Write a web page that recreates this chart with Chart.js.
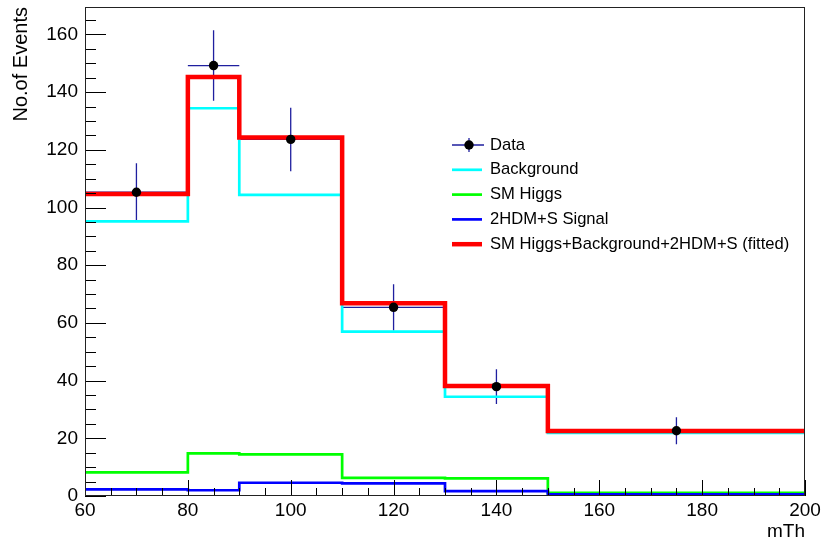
<!DOCTYPE html>
<html>
<head>
<meta charset="utf-8">
<script src="https://cdn.jsdelivr.net/npm/chart.js@4.4.0/dist/chart.umd.min.js"></script>
<style>
  html, body { margin: 0; padding: 0; background: #fff; }
</style>
</head>
<body>
<canvas id="grafico" width="823" height="541"></canvas>
<script>
// Bordes de los bins (mTh)
const binEdges = [60, 80, 90, 110, 130, 150, 200];

// Contenido de cada bin
const background = [95.2, 134.4, 104.4, 57.0, 34.4, 21.9];
const smHiggs = [8.2, 14.8, 14.4, 6.3, 6.1, 1.1];
const signal2HDM = [2.3, 2.0, 4.6, 4.4, 1.7, 0.6];
const fitted = [104.7, 145.2, 124.3, 66.8, 38.1, 22.5];

// Datos con sus barras de error
const dataX = [70, 85, 100, 120, 140, 175];
const dataY = [105.3, 149.2, 123.6, 65.4, 37.9, 22.6];
const dataErr = [10.0, 12.2, 11.0, 8.0, 6.0, 4.7];

const xTicks = [60, 80, 100, 120, 140, 160, 180, 200];
const yTicks = [0, 20, 40, 60, 80, 100, 120, 140, 160];

const legendLabels = ['Data', 'Background', 'SM Higgs', '2HDM+S Signal', 'SM Higgs+Background+2HDM+S (fitted)'];

const FUENTE = '"Liberation Sans", Arial, Helvetica, sans-serif';

// Convierte el contenido de los bins en puntos para una línea escalonada
function escalones(valores) {
  const pts = valores.map((v, i) => ({ x: binEdges[i], y: v }));
  pts.push({ x: binEdges[binEdges.length - 1], y: valores[valores.length - 1] });
  return pts;
}

function lineaHist(label, valores, color, ancho) {
  return {
    label,
    data: escalones(valores),
    borderColor: color,
    backgroundColor: color,
    borderWidth: ancho,
    stepped: 'before',
    pointRadius: 0,
    fill: false,
    borderJoinStyle: 'miter',
    borderCapStyle: 'butt'
  };
}

// Barras de error de los datos (debajo de los histogramas)
const barrasError = {
  id: 'barrasError',
  beforeDatasetsDraw(chart) {
    const { ctx, scales: { x, y } } = chart;
    ctx.save();
    ctx.strokeStyle = '#1f1f9f';
    ctx.lineWidth = 1.3;
    dataX.forEach((cx, i) => {
      // ancho del bin que contiene el punto
      let j = 0;
      while (j < binEdges.length - 2 && cx >= binEdges[j + 1]) j++;
      const px = x.getPixelForValue(cx);
      const py = y.getPixelForValue(dataY[i]);
      ctx.beginPath();
      ctx.moveTo(x.getPixelForValue(binEdges[j]), py);
      ctx.lineTo(x.getPixelForValue(binEdges[j + 1]), py);
      ctx.moveTo(px, y.getPixelForValue(dataY[i] - dataErr[i]));
      ctx.lineTo(px, y.getPixelForValue(dataY[i] + dataErr[i]));
      ctx.stroke();
    });
    ctx.restore();
  }
};

// Marco y marcas hacia adentro, al estilo ROOT
const marcoRoot = {
  id: 'marcoRoot',
  afterDatasetsDraw(chart) {
    const { ctx, chartArea: a, scales: { x, y } } = chart;
    ctx.save();
    ctx.strokeStyle = '#000';
    ctx.lineWidth = 1;
    ctx.beginPath();
    for (let v = x.min; v <= x.max; v += 5) {
      const px = Math.round(x.getPixelForValue(v)) + 0.5;
      const largo = (v % 20 === 0) ? 16 : 8;
      ctx.moveTo(px, a.bottom);
      ctx.lineTo(px, a.bottom - largo);
    }
    for (let v = 0; v <= y.max; v += 5) {
      const py = Math.round(y.getPixelForValue(v)) + 0.5;
      const largo = (v % 20 === 0) ? 21 : 11;
      ctx.moveTo(a.left, py);
      ctx.lineTo(a.left + largo, py);
    }
    ctx.stroke();
    ctx.strokeStyle = '#222';
    ctx.strokeRect(Math.round(a.left) + 0.5, Math.round(a.top) + 0.5,
      Math.round(a.right - a.left) - 1, Math.round(a.bottom - a.top) - 1);
    ctx.restore();
  },
  afterDraw(chart) {
    // Leyenda sin borde dentro del área del gráfico
    const { ctx } = chart;
    const sets = chart.data.datasets;
    const orden = [0, 4, 3, 2, 1]; // Data, Background, SM Higgs, 2HDM+S, fitted
    const x0 = 452, x1 = 482, xt = 490;
    ctx.save();
    ctx.font = '16.6px ' + FUENTE;
    ctx.textBaseline = 'middle';
    legendLabels.forEach((txt, k) => {
      const yy = 145 + k * 24.8;
      if (k === 0) {
        ctx.strokeStyle = '#1f1f9f';
        ctx.lineWidth = 1.3;
        ctx.beginPath();
        ctx.moveTo(x0, yy); ctx.lineTo(x1 + 2, yy);
        ctx.moveTo(469, yy - 7); ctx.lineTo(469, yy + 7);
        ctx.stroke();
        ctx.beginPath();
        ctx.arc(469, yy, 4.7, 0, Math.PI * 2);
        ctx.fillStyle = '#000';
        ctx.fill();
      } else {
        const ds = sets[orden[k]];
        ctx.strokeStyle = ds.borderColor;
        ctx.lineWidth = ds.borderWidth;
        ctx.beginPath();
        ctx.moveTo(x0, yy); ctx.lineTo(x1, yy);
        ctx.stroke();
      }
      ctx.fillStyle = '#000';
      ctx.fillText(txt, xt, yy);
    });
    ctx.restore();
  }
};

const ctx = document.getElementById('grafico').getContext('2d');

new Chart(ctx, {
  type: 'line',
  data: {
    datasets: [
      {
        label: 'Data',
        data: dataX.map((v, i) => ({ x: v, y: dataY[i] })),
        showLine: false,
        pointRadius: 4.7,
        pointBorderWidth: 0,
        pointBackgroundColor: '#000',
        borderColor: '#000'
      },
      lineaHist('SM Higgs+Background+2HDM+S (fitted)', fitted, '#ff0000', 4.5),
      lineaHist('2HDM+S Signal', signal2HDM, '#0000ff', 2.7),
      lineaHist('SM Higgs', smHiggs, '#00ff00', 2.7),
      lineaHist('Background', background, '#00ffff', 2.7)
    ]
  },
  options: {
    responsive: false,
    animation: false,
    layout: { padding: { top: 7, right: 18, left: 0, bottom: 0 } },
    plugins: {
      legend: { display: false },
      tooltip: { enabled: false }
    },
    scales: {
      x: {
        type: 'linear',
        min: 60,
        max: 200,
        afterBuildTicks: s => { s.ticks = xTicks.map(v => ({ value: v })); },
        afterFit: s => { s.height = 45; s.paddingLeft = 0; s.paddingRight = 0; },
        grid: { display: false, drawTicks: false },
        border: { display: false },
        ticks: {
          autoSkip: false,
          maxRotation: 0,
          padding: 3,
          color: '#000',
          font: { family: FUENTE, size: 19 }
        },
        title: {
          display: true,
          text: 'mTh',
          align: 'end',
          color: '#000',
          font: { family: FUENTE, size: 19, lineHeight: 1 },
          padding: { top: 0, bottom: 0 }
        }
      },
      y: {
        min: 0,
        max: 169.5,
        afterBuildTicks: s => { s.ticks = yTicks.map(v => ({ value: v })); },
        afterFit: s => { s.width = 85; s.paddingTop = 0; s.paddingBottom = 0; },
        grid: { display: false, drawTicks: false },
        border: { display: false },
        ticks: {
          padding: 7,
          color: '#000',
          font: { family: FUENTE, size: 19 }
        },
        title: {
          display: true,
          text: 'No.of Events',
          align: 'end',
          color: '#000',
          font: { family: FUENTE, size: 20, lineHeight: 1 },
          padding: { top: 11, bottom: 0 }
        }
      }
    }
  },
  plugins: [barrasError, marcoRoot]
});
</script>
</body>
</html>
